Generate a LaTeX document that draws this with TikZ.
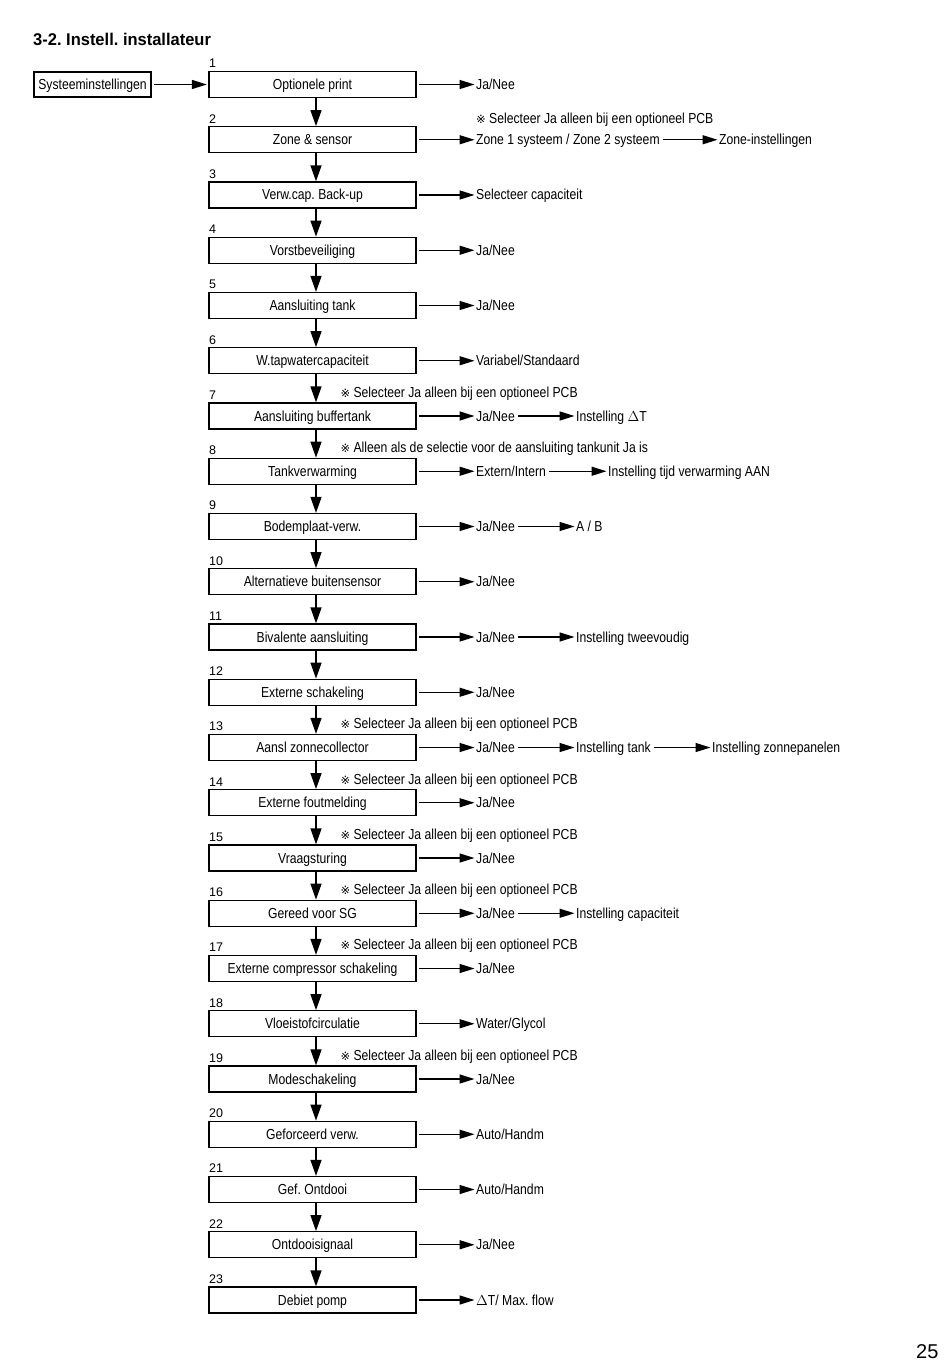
\documentclass[tikz,border=0pt]{standalone}
\usepackage{fontspec}
\setmainfont{Liberation Sans}
\newfontfamily\boxfontfam[FakeStretch=0.84]{Liberation Sans}
\newfontfamily\titlefontfam[FakeStretch=0.97]{Liberation Sans}
\newfontfamily\symfont{DejaVu Sans}
\usetikzlibrary{arrows.meta}
\frenchspacing
\newcommand{\bxfont}{\boxfontfam\fontsize{14.5}{17}\selectfont}
\newcommand{\refmark}{{\symfont\fontsize{11.5}{12}\selectfont ※}}
\begin{document}
\begin{tikzpicture}[x=1pt,y=-1pt,
  box/.style={draw, line width=1.3pt, minimum width=207pt, minimum height=26pt, inner sep=0pt, text height=10pt, text depth=0pt, font=\bxfont},
  sbox/.style={draw, line width=1.1pt, minimum width=117pt, minimum height=25pt, inner sep=0pt, text height=10pt, text depth=0pt, font=\bxfont},
  lbl/.style={anchor=west, inner sep=0pt, text height=10pt, text depth=0pt, font=\bxfont},
  num/.style={anchor=base west, inner sep=0pt, font=\fontsize{12.5}{15}\selectfont},
  note/.style={anchor=base west, inner sep=0pt, font=\bxfont},
  arr/.style={line width=1.4pt, shorten >=1.5pt, -{Triangle[length=15pt,width=9pt]}},
  varr/.style={line width=1.4pt, -{Triangle[length=16pt,width=11pt]}}]
\useasboundingbox (0,0) rectangle (950,1364);
% title and page number
\node[anchor=base west, inner sep=0pt, font=\titlefontfam\bfseries\fontsize{17}{20}\selectfont] (title) at (33,46) {3-2. Instell. installateur};
\node[anchor=base west, inner sep=0pt, font=\fontsize{20}{24}\selectfont] (page) at (916,1358) {25};
% main boxes
\foreach \i/\t in {1/{Optionele print}, 2/{Zone \& sensor}, 3/{Verw.cap. Back-up}, 4/{Vorstbeveiliging}, 5/{Aansluiting tank}, 6/{W.tapwatercapaciteit}, 7/{Aansluiting buffertank}, 8/{Tankverwarming}, 9/{Bodemplaat-verw.}, 10/{Alternatieve buitensensor}, 11/{Bivalente aansluiting}, 12/{Externe schakeling}, 13/{Aansl zonnecollector}, 14/{Externe foutmelding}, 15/{Vraagsturing}, 16/{Gereed voor SG}, 17/{Externe compressor schakeling}, 18/{Vloeistofcirculatie}, 19/{Modeschakeling}, 20/{Geforceerd verw.}, 21/{Gef. Ontdooi}, 22/{Ontdooisignaal}, 23/{Debiet pomp}}{
  \pgfmathsetmacro{\yy}{84.5+(\i-1)*55.25}
  \node[box] (b\i) at (312.5,\yy) {\t};
  \node[num] (n\i) at ([xshift=0.5pt,yshift=3pt]b\i.north west) {\i};
}
% vertical arrows
\foreach \i [evaluate=\i as \j using int(\i+1)] in {1,...,22}{
  \draw[varr] ([xshift=3.5pt]b\i.south) -- ([xshift=3.5pt]b\j.north);
}
% start box
\node[sbox] (sys) at (92.5,84.5) {Systeeminstellingen};
\draw[arr] ([xshift=2pt]sys.east) -- (b1.west);
% notes
\node[note] (note2) at (476,124) {\refmark\ Selecteer Ja alleen bij een optioneel PCB};
\foreach \i in {7,13,14,15,16,17,19}{
  \node[note] (note\i) at ([xshift=132pt,yshift=5pt]b\i.north west) {\refmark\ Selecteer Ja alleen bij een optioneel PCB};
}
\node[note] (note8) at ([xshift=132pt,yshift=5pt]b8.north west) {\refmark\ Alleen als de selectie voor de aansluiting tankunit Ja is};
% first-level results
\foreach \i/\t in {1/{Ja/Nee}, 2/{Zone 1 systeem / Zone 2 systeem}, 3/{Selecteer capaciteit}, 4/{Ja/Nee}, 5/{Ja/Nee}, 6/{Variabel/Standaard}, 7/{Ja/Nee}, 8/{Extern/Intern}, 9/{Ja/Nee}, 10/{Ja/Nee}, 11/{Ja/Nee}, 12/{Ja/Nee}, 13/{Ja/Nee}, 14/{Ja/Nee}, 15/{Ja/Nee}, 16/{Ja/Nee}, 17/{Ja/Nee}, 18/{Water/Glycol}, 19/{Ja/Nee}, 20/{Auto/Handm}, 21/{Auto/Handm}, 22/{Ja/Nee}, 23/{$\Delta$T/ Max. flow}}{
  \node[lbl] (r\i) at (b\i.east -| 476,0) {\t};
  \draw[arr] ([xshift=2.5pt]b\i.east) -- (r\i.west);
}
% second-level results
\node[lbl] (s2) at (r2.west -| 719,0) {Zone-instellingen};
\node[lbl] (s7) at (r7.west -| 576,0) {Instelling $\Delta$T};
\node[lbl] (s8) at (r8.west -| 608,0) {Instelling tijd verwarming AAN};
\node[lbl] (s9) at (r9.west -| 576,0) {A / B};
\node[lbl] (s11) at (r11.west -| 576,0) {Instelling tweevoudig};
\node[lbl] (s13) at (r13.west -| 576,0) {Instelling tank};
\node[lbl] (t13) at (r13.west -| 712,0) {Instelling zonnepanelen};
\node[lbl] (s16) at (r16.west -| 576,0) {Instelling capaciteit};
\foreach \a/\b in {r2/s2, r7/s7, r8/s8, r9/s9, r11/s11, r13/s13, s13/t13, r16/s16}{
  \draw[arr] ([xshift=3pt]\a.east) -- (\b.west);
}
\end{tikzpicture}
\end{document}
